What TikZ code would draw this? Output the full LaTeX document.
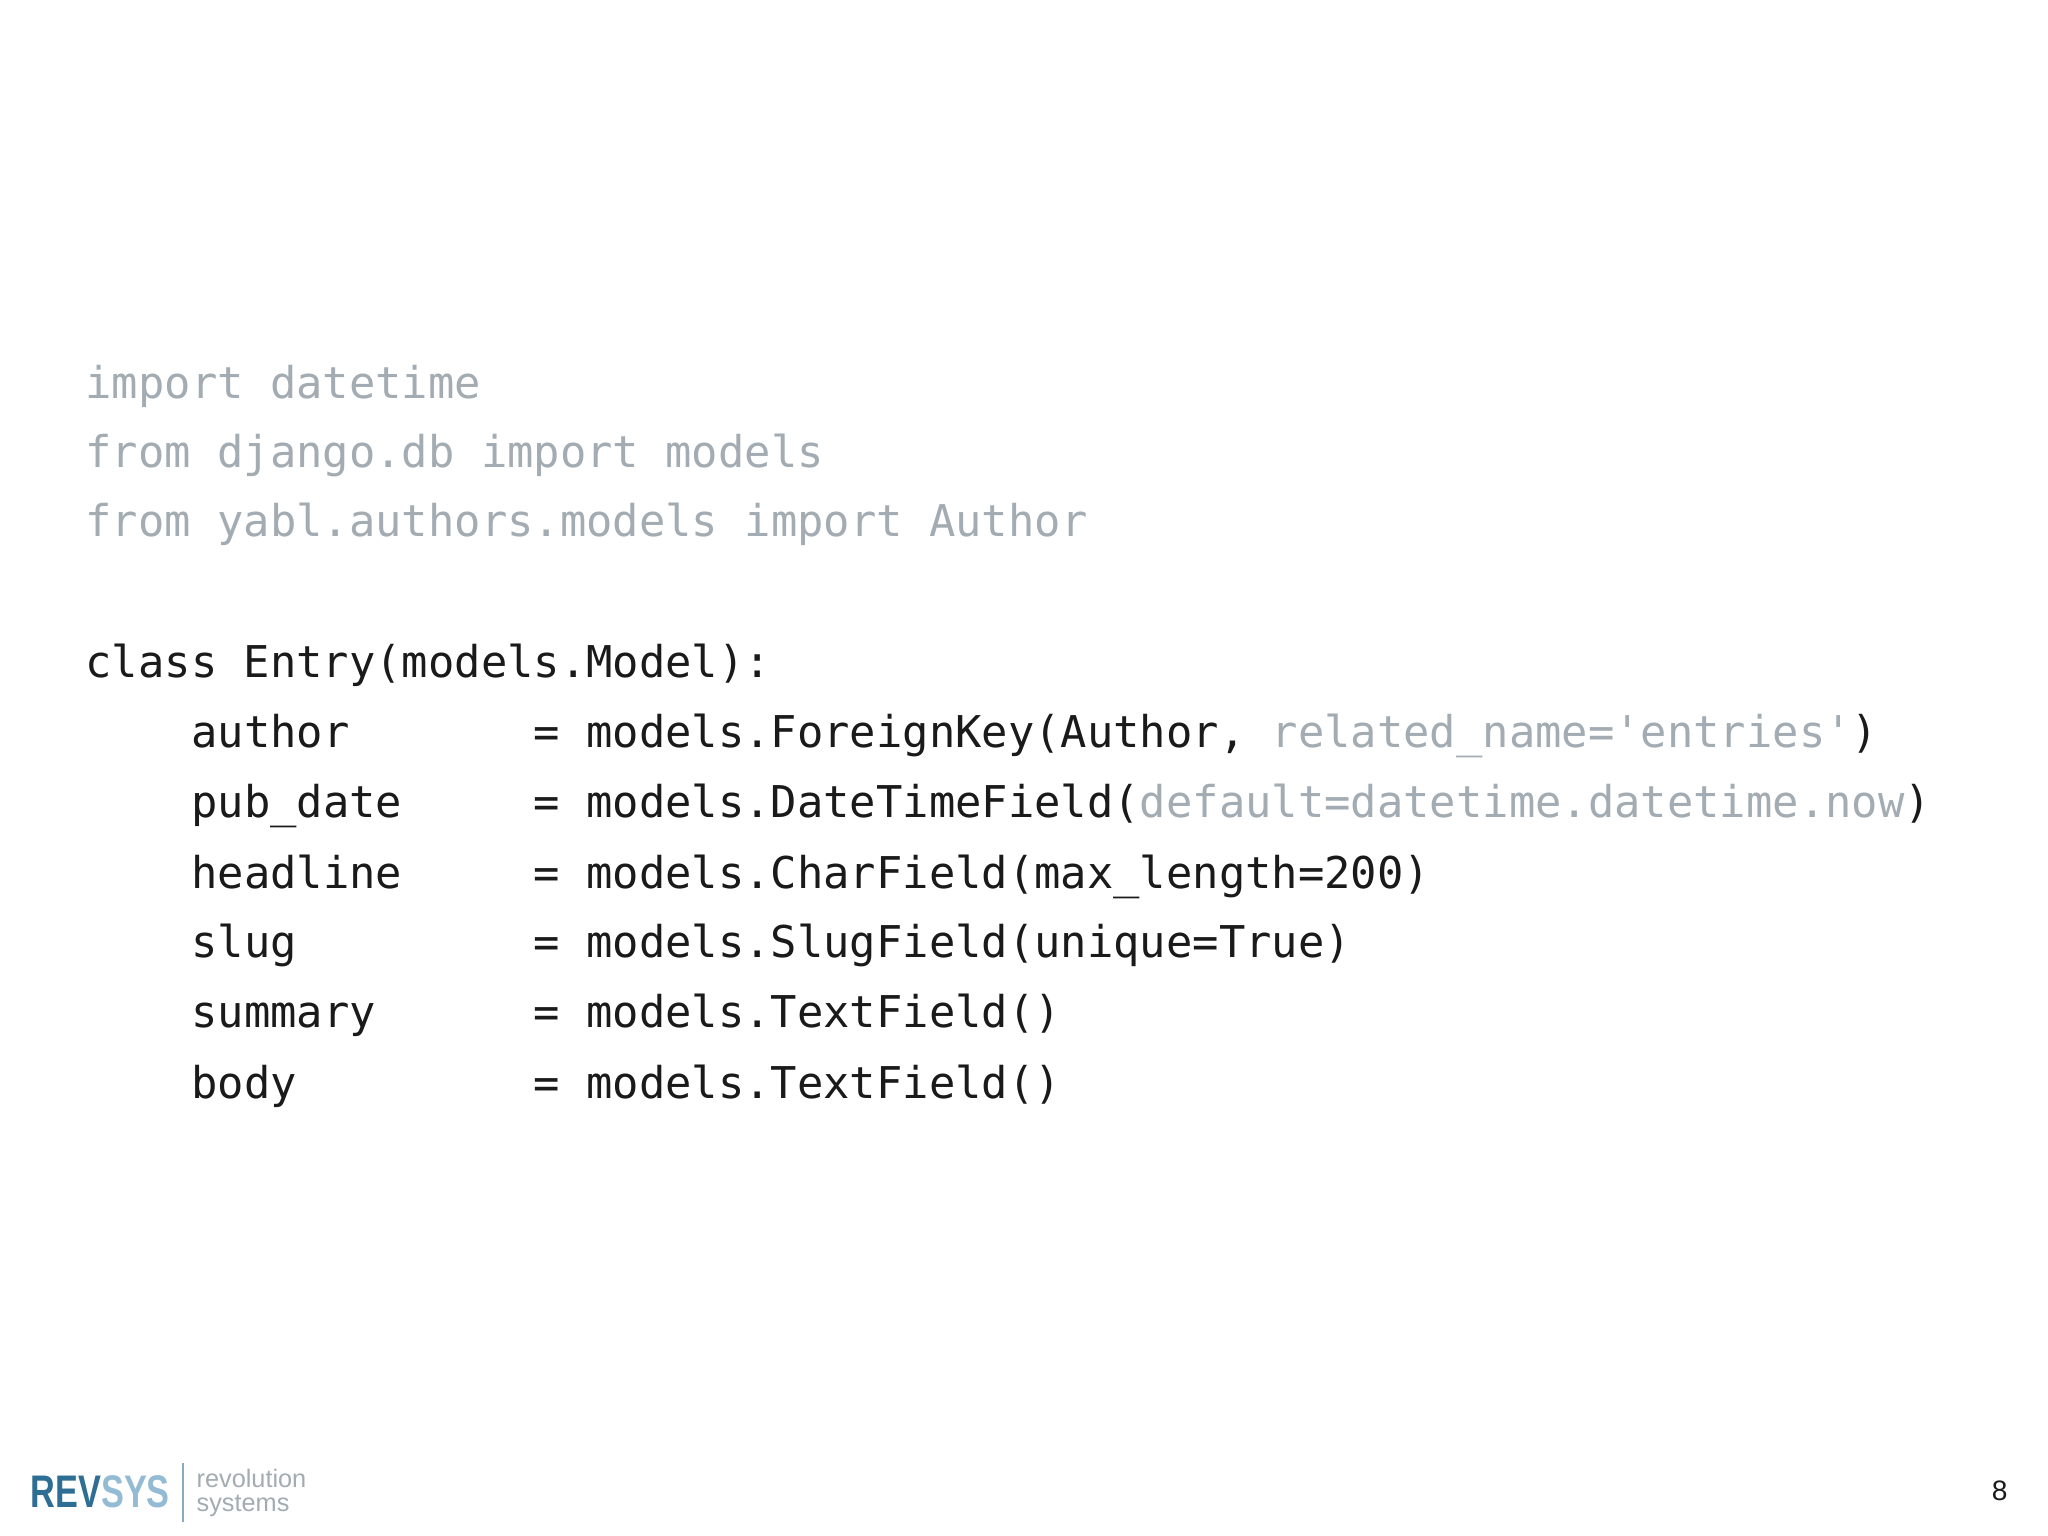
\documentclass[tikz,border=0pt]{standalone}
\usepackage{fontspec}
\newfontfamily\code{DejaVu Sans Mono}
\newfontfamily\logof{Liberation Sans}[FakeStretch=0.75]
\newfontfamily\sansf{Liberation Sans}
\definecolor{cg}{HTML}{A3ACB2}
\definecolor{ck}{HTML}{1A1A1A}
\definecolor{rev}{HTML}{2F6E94}
\definecolor{sys}{HTML}{93BCD4}
\begin{document}
\begin{tikzpicture}[x=0.01306cm,y=-0.01306cm,
  ln/.style={anchor=base west,inner sep=0,font=\code\fontsize{12.46}{14}\selectfont,text=ck}]
\useasboundingbox[fill=white] (0,0) rectangle (1568,1176);
\node[ln,text=cg] (l1) at (65,305) {import datetime};
\node[ln,text=cg] (l2) at (65,358) {from django.db import models};
\node[ln,text=cg] (l3) at (65,411) {from yabl.authors.models import Author};
\node[ln] (c) at (65,519) {class Entry(models.Model):};
\node[ln] (f1) at (146,572) {author};
\node[ln] (e1) at (408,572) {= models.ForeignKey(Author, \textcolor{cg}{related\_name='entries'})};
\node[ln] (f2) at (146,626) {pub\_date};
\node[ln] (e2) at (408,626) {= models.DateTimeField(\textcolor{cg}{default=datetime.datetime.now})};
\node[ln] (f3) at (146,680) {headline};
\node[ln] (e3) at (408,680) {= models.CharField(max\_length=200)};
\node[ln] (f4) at (146,733) {slug};
\node[ln] (e4) at (408,733) {= models.SlugField(unique=True)};
\node[ln] (f5) at (146,787) {summary};
\node[ln] (e5) at (408,787) {= models.TextField()};
\node[ln] (f6) at (146,841) {body};
\node[ln] (e6) at (408,841) {= models.TextField()};
% logo
\node[anchor=base west,inner sep=0,font=\logof\bfseries\fontsize{13}{13}\selectfont] (logo) at (23,1154) {\textcolor{rev}{REV}\textcolor{sys}{SYS}};
\draw[color=sys!70!gray,line width=0.5pt] (140,1120) -- (140,1165);
\node[anchor=base west,inner sep=0,text=cg,font=\sansf\fontsize{7.2}{7}\selectfont] (tag1) at (150,1139) {revolution};
\node[anchor=base west,inner sep=0,text=cg,font=\sansf\fontsize{7.2}{7}\selectfont] (tag2) at (150,1157) {systems};
\node[anchor=base,inner sep=0,text=ck,font=\sansf\fontsize{8}{8}\selectfont] (pg) at (1531,1149) {8};
\end{tikzpicture}
\end{document}
